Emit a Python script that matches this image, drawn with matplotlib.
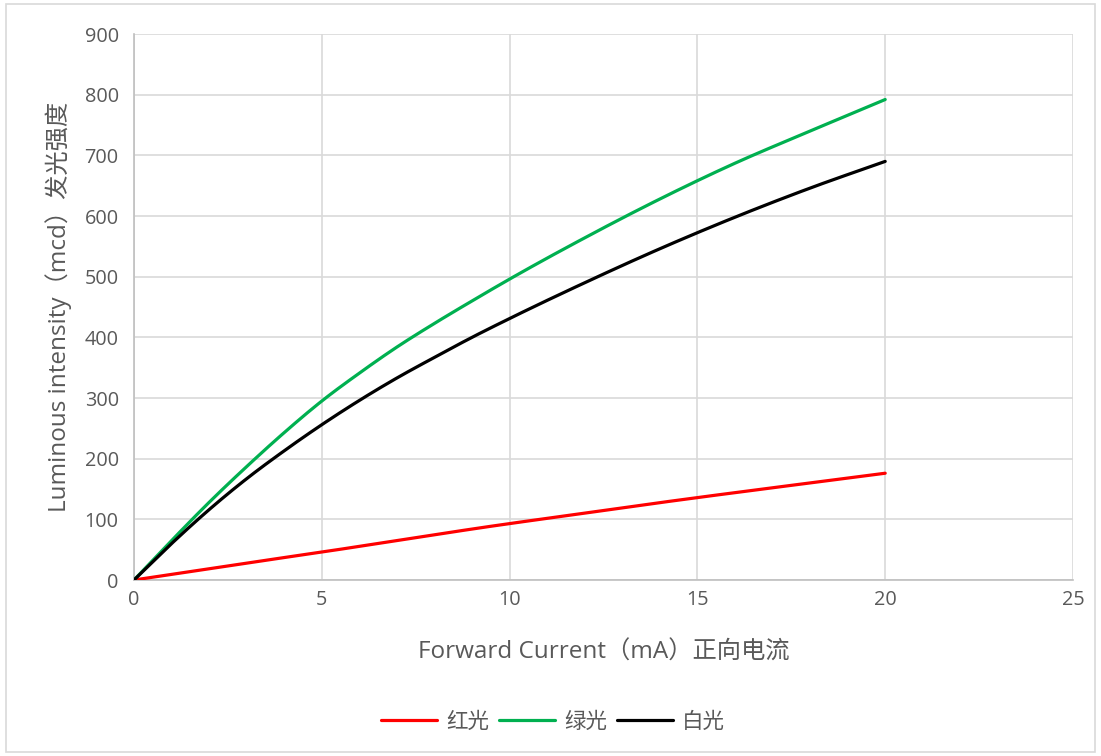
import matplotlib
matplotlib.use("Agg")
import matplotlib.pyplot as plt
from matplotlib.patches import Rectangle
import numpy as np

plt.rcParams['font.family'] = ['Open Sans', 'Noto Sans CJK SC', 'DejaVu Sans']

# Data
current_ma = [0, 1, 2, 3, 4, 5, 6, 7, 8, 9, 10, 12, 14, 16, 18, 20]
red_mcd = [0, 9.3, 18.6, 27.9, 37, 46, 55.5, 65, 74.5, 84, 93, 110, 127.5, 144, 160, 176]
green_mcd = [0, 65, 128, 187, 243, 295, 341, 384, 423, 460, 496, 564, 628, 687, 740, 792]
white_mcd = [0, 60, 116, 167, 213, 256, 296, 333, 367, 400, 431, 490, 546, 598, 646, 690]

series_names = ['红光', '绿光', '白光']
series_colors = ['#FF0000', '#00B050', '#000000']

x_ticks = [0, 5, 10, 15, 20, 25]
y_ticks = [0, 100, 200, 300, 400, 500, 600, 700, 800, 900]

x_label = 'Forward Current（mA）正向电流'
y_label = 'Luminous intensity（mcd）发光强度'


def smooth(x, y, n=24):
    """Piecewise cubic Hermite curve through the points (drawing only)."""
    x = np.asarray(x, float)
    y = np.asarray(y, float)
    h = np.diff(x)
    d = np.diff(y) / h
    m = np.empty_like(y)
    m[0] = d[0]
    m[-1] = d[-1]
    for i in range(1, len(x) - 1):
        m[i] = (d[i - 1] * h[i] + d[i] * h[i - 1]) / (h[i - 1] + h[i])
    xs, ys = [], []
    for i in range(len(x) - 1):
        t = np.linspace(0, 1, n, endpoint=False)
        h00 = 2 * t ** 3 - 3 * t ** 2 + 1
        h10 = t ** 3 - 2 * t ** 2 + t
        h01 = -2 * t ** 3 + 3 * t ** 2
        h11 = t ** 3 - t ** 2
        xs.extend(x[i] + t * h[i])
        ys.extend(h00 * y[i] + h10 * h[i] * m[i] + h01 * y[i + 1] + h11 * h[i] * m[i + 1])
    xs.append(x[-1]); ys.append(y[-1])
    return xs, ys


fig = plt.figure(figsize=(11.01, 7.56), dpi=100)
fig.patches.append(Rectangle((6 / 1101, 4 / 756), 1 - 12 / 1101, 1 - 8 / 756,
                             transform=fig.transFigure, fill=False,
                             edgecolor='#d9d9d9', linewidth=1.2))

ax = fig.add_axes([134 / 1101, 1 - 580 / 756, (1073 - 134) / 1101, (580 - 34) / 756])

for name, color, vals in zip(series_names, series_colors, [red_mcd, green_mcd, white_mcd]):
    sx, sy = smooth(current_ma, vals)
    ax.plot(sx, sy, color=color, linewidth=2.3, label=name,
            solid_capstyle='round', solid_joinstyle='round', zorder=3)

ax.set_xlim(0, 25)
ax.set_ylim(0, 900)
ax.set_xticks(x_ticks)
ax.set_yticks(y_ticks)
ax.grid(True, color='#d9d9d9', linewidth=1.2, zorder=0)
ax.set_axisbelow(True)
for s in ['top', 'right']:
    ax.spines[s].set_visible(False)
for s in ['left', 'bottom']:
    ax.spines[s].set_color('#bfbfbf')
    ax.spines[s].set_linewidth(1.2)
ax.tick_params(length=0, labelsize=14.3, labelcolor='#595959')
ax.tick_params(axis='y', pad=11)
ax.tick_params(axis='x', pad=7)

ax.set_xlabel(x_label, fontsize=17.5, color='#595959', labelpad=22)
ax.set_ylabel(y_label, fontsize=17.5, color='#595959', labelpad=9)

fig.legend(loc='center', bbox_to_anchor=(553 / 1101, 1 - 722 / 756), ncol=3,
           frameon=False, fontsize=15.5, labelcolor='#595959',
           handlelength=2.6, handletextpad=0.42, columnspacing=0.47)

fig.savefig('out.png', dpi=100, facecolor='white')
